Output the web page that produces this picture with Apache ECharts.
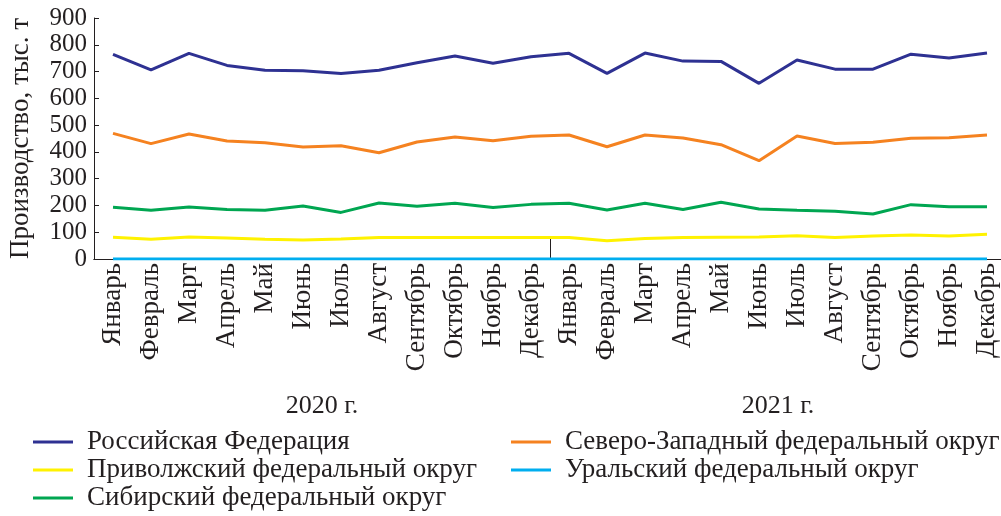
<!DOCTYPE html>
<html>
<head>
<meta charset="utf-8">
<script src="https://cdn.jsdelivr.net/npm/echarts@6/dist/echarts.min.js"></script>
<style>
  html, body { margin: 0; padding: 0; background: #fff; }
  #chart { width: 1001px; height: 516px; }
</style>
</head>
<body>
<div id="chart"></div>
<script>
const months = ['Январь', 'Февраль', 'Март', 'Апрель', 'Май', 'Июнь', 'Июль', 'Август',
  'Сентябрь', 'Октябрь', 'Ноябрь', 'Декабрь']
const categories = months.concat(months)
const years = ['2020 г.', '2021 г.']
const yTicks = [0, 100, 200, 300, 400, 500, 600, 700, 800, 900]

// production, thousand tonnes
const russia = [764, 706, 768, 723, 705, 703, 693, 705, 733, 758, 731, 755,
  768, 693, 769, 739, 738, 656, 743, 709, 709, 765, 751, 769]
const northWest = [469, 431, 467, 441, 434, 418, 423, 397, 437, 456, 442, 458,
  463, 419, 463, 452, 427, 367, 459, 431, 436, 451, 453, 463]
const volga = [81, 74, 82, 78, 74, 71, 75, 80, 80, 80, 80, 80,
  80, 68, 77, 80, 81, 82, 87, 80, 86, 90, 86, 92]
const ural = [0, 0, 0, 0, 0, 0, 0, 0, 0, 0, 0, 0,
  0, 0, 0, 0, 0, 0, 0, 0, 0, 0, 0, 0]
const siberia = [193, 182, 194, 185, 182, 198, 174, 209, 197, 208, 192, 204,
  208, 183, 208, 185, 212, 187, 182, 178, 168, 203, 195, 195]

const names = ['Российская Федерация', 'Северо-Западный федеральный округ',
  'Приволжский федеральный округ', 'Уральский федеральный округ',
  'Сибирский федеральный округ']

const textColor = '#231f20'
const font = 'Liberation Serif'

const chart = echarts.init(document.getElementById('chart'))

function line (name, data, color) {
  return {
    name: name,
    type: 'line',
    data: data,
    symbol: 'none',
    lineStyle: { color: color, width: 3 },
    itemStyle: { color: color },
    z: 3
  }
}

const legendText = {
  fontFamily: font,
  fontSize: 27,
  color: textColor,
  lineHeight: 28,
  padding: [0, 0, 0, 9]
}

function legend (left, data) {
  return {
    orient: 'vertical',
    left: left,
    top: 428,
    height: 88,
    padding: 0,
    itemGap: 0,
    itemWidth: 40,
    itemHeight: 3,
    icon: 'rect',
    data: data,
    textStyle: legendText
  }
}

const option = {
  animation: false,
  grid: {
    left: 94,
    right: -5,
    top: 18,
    bottom: 257,
    containLabel: false,
    outerBoundsMode: 'none'
  },
  legend: [
    legend(33, [names[0], names[2], names[4]]),
    legend(511, [names[1], names[3]])
  ],
  xAxis: [
    {
      type: 'category',
      data: categories,
      boundaryGap: true,
      axisLine: { lineStyle: { color: textColor, width: 1 } },
      axisTick: { inside: true, length: 10, lineStyle: { color: textColor } },
      axisLabel: {
        rotate: 90,
        interval: 0,
        margin: 4,
        fontFamily: font,
        fontSize: 27,
        color: textColor
      }
    },
    {
      type: 'category',
      data: years,
      position: 'bottom',
      boundaryGap: true,
      axisLine: { show: true, lineStyle: { color: textColor, width: 1 } },
      axisTick: { show: true, inside: true, length: 21, lineStyle: { color: textColor } },
      axisLabel: {
        margin: 134,
        fontFamily: font,
        fontSize: 26,
        color: textColor
      }
    }
  ],
  yAxis: {
    type: 'value',
    min: yTicks[0],
    max: yTicks[yTicks.length - 1],
    interval: 100,
    name: 'Производство, тыс. т',
    nameLocation: 'middle',
    nameGap: 60,
    nameTextStyle: { fontFamily: font, fontSize: 27, color: textColor },
    axisLine: { show: true, lineStyle: { color: textColor, width: 1 } },
    axisTick: { show: true, inside: true, length: 5, lineStyle: { color: textColor } },
    splitLine: { show: false },
    axisLabel: {
      margin: 7,
      fontFamily: font,
      fontSize: 25,
      color: textColor
    }
  },
  series: [
    line(names[0], russia, '#2e3192'),
    line(names[1], northWest, '#f58220'),
    line(names[2], volga, '#fff200'),
    line(names[3], ural, '#00aeef'),
    line(names[4], siberia, '#00a651')
  ]
}

chart.setOption(option)
</script>
</body>
</html>
